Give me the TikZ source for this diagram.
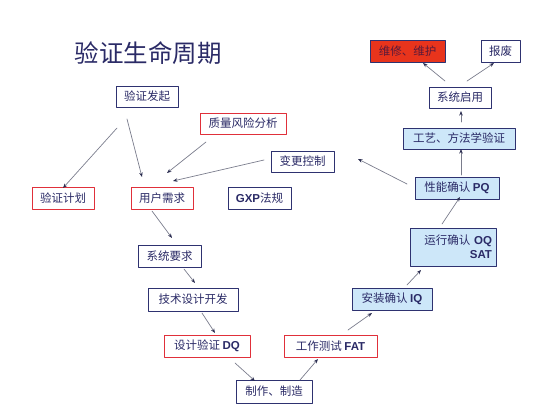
\documentclass[tikz,border=0pt]{standalone}
\usepackage{fontspec}
\newfontfamily\cjk{Noto Sans CJK SC}
\newfontfamily\lat{Liberation Sans}
\usetikzlibrary{arrows.meta}
\definecolor{navy}{HTML}{2E3270}
\definecolor{ink}{HTML}{2A2A66}
\definecolor{redline}{HTML}{E0303A}
\definecolor{redfill}{HTML}{E8341C}
\definecolor{hotink}{HTML}{5A1A3A}
\definecolor{skyfill}{HTML}{CDE7F9}
\definecolor{wire}{HTML}{7A7C8C}
\definecolor{tipcol}{HTML}{2A2C50}
\newcommand{\ltn}[1]{{\lat\bfseries #1}}
\tikzset{
  box/.style={draw=navy, line width=0.8pt, fill=white, text=ink, inner sep=0pt,
    minimum height=21pt, font=\cjk\fontsize{11.5}{14}\selectfont},
  redbox/.style={box, draw=redline, line width=1pt},
  skybox/.style={box, fill=skyfill},
  hotbox/.style={box, fill=redfill, text=hotink},
  link/.style={->, draw=wire, line width=0.7pt}
}
\begin{document}
\begin{tikzpicture}[x=1pt, y=-1pt, line join=round, line cap=round,
    >={Stealth[length=4.5pt,width=3.5pt,color=tipcol]}]
  \useasboundingbox (0,0) rectangle (554,420);
  \node (title) at (148,53) [text=ink, font=\cjk\fontsize{24.5}{28}\selectfont]{验证生命周期};
  \node[box, minimum width=62pt] (fq) at (147,96.5) {验证发起};
  \node[redbox, minimum width=86pt] (zl) at (243,123.5) {质量风险分析};
  \node[hotbox, minimum width=75pt, minimum height=22pt] (wx) at (407.5,51) {维修、维护};
  \node[box, minimum width=39pt, minimum height=22pt] (bf) at (500.5,51) {报废};
  \node[box, minimum width=62pt] (qy) at (460,97.5) {系统启用};
  \node[skybox, minimum width=112pt] (gy) at (459,138.5) {工艺、方法学验证};
  \node[box, minimum width=63pt] (bg) at (302.5,161.5) {变更控制};
  \node[redbox, minimum width=62pt, minimum height=22pt] (jh) at (63,198) {验证计划};
  \node[redbox, minimum width=62pt, minimum height=22pt] (xq) at (162,198) {用户需求};
  \node[box, minimum width=63pt, minimum height=22pt] (gxp) at (259.5,198) {\ltn{GXP}法规};
  \node[skybox, minimum width=84pt, minimum height=22pt] (pq) at (457,188) {性能确认 \ltn{PQ}};
  \node[skybox, text width=78pt, inner xsep=4pt, align=right, minimum height=38pt] (oq) at (453,247) {运行确认 \ltn{OQ}\\\ltn{SAT}};
  \node[box, minimum width=63pt, minimum height=22pt] (xt) at (169.5,256) {系统要求};
  \node[box, minimum width=90pt, minimum height=23pt] (js) at (193,299.5) {技术设计开发};
  \node[skybox, minimum width=80pt, minimum height=22pt] (iq) at (392,299) {安装确认 \ltn{IQ}};
  \node[redbox, minimum width=86pt, minimum height=22pt] (dq) at (207,346) {设计验证 \ltn{DQ}};
  \node[redbox, minimum width=93pt, minimum height=22pt] (fat) at (330.5,346) {工作测试 \ltn{FAT}};
  \node[box, minimum width=76pt, minimum height=23pt] (zz) at (274,391.5) {制作、制造};
  \draw[link] ([shift={(-30,31.5)}]fq.center) -- ([shift={(0,-10)}]jh.center);
  \draw[link] ([shift={(-20,22.5)}]fq.center) -- ([shift={(-20,-21)}]xq.center);
  \draw[link] ([shift={(-37,18.5)}]zl.center) -- ([shift={(5,-25)}]xq.center);
  \draw[link] ([shift={(-38.5,-1.5)}]bg.center) -- ([shift={(11,-17)}]xq.center);
  \draw[link] ([shift={(-10,13)}]xq.center) -- ([shift={(2.5,-18)}]xt.center);
  \draw[link] ([shift={(14.5,13)}]xt.center) -- ([shift={(2,-16.5)}]js.center);
  \draw[link] ([shift={(9,13.5)}]js.center) -- ([shift={(8,-13)}]dq.center);
  \draw[link] ([shift={(28,17)}]dq.center) -- ([shift={(-19,-10.5)}]zz.center);
  \draw[link] ([shift={(26,-11.5)}]zz.center) -- ([shift={(-12.5,13)}]fat.center);
  \draw[link] ([shift={(17.5,-16)}]fat.center) -- ([shift={(-20,14)}]iq.center);
  \draw[link] ([shift={(15,-14)}]iq.center) -- ([shift={(-32,23)}]oq.center);
  \draw[link] ([shift={(-11,-23)}]oq.center) -- ([shift={(3,9)}]pq.center);
  \draw[link] ([shift={(4,-13)}]pq.center) -- ([shift={(2,10.5)}]gy.center);
  \draw[link] ([shift={(-50,-4)}]pq.center) -- ([shift={(55.5,-2.5)}]bg.center);
  \draw[link] ([shift={(2,-16.5)}]gy.center) -- ([shift={(1,13.5)}]qy.center);
  \draw[link] ([shift={(-15,-16.5)}]qy.center) -- ([shift={(15.5,12)}]wx.center);
  \draw[link] ([shift={(7,-16.5)}]qy.center) -- ([shift={(-6.5,12)}]bf.center);
\end{tikzpicture}
\end{document}
